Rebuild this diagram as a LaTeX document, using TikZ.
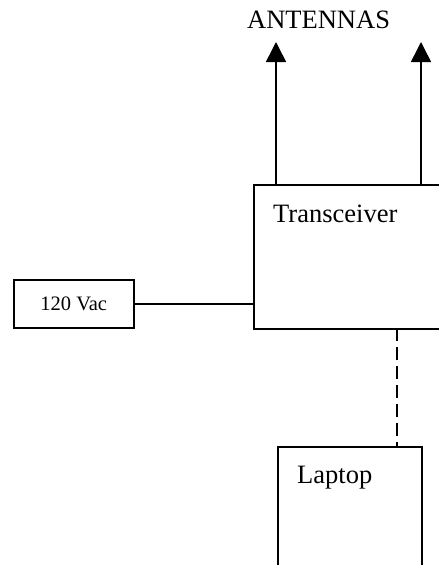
\documentclass[tikz,border=0pt]{standalone}
\usepackage{fontspec}
\setmainfont{Liberation Serif}
\usetikzlibrary{arrows.meta}
\begin{document}
\begin{tikzpicture}[x=1pt,y=-1pt,
  line/.style={line width=1.5pt},
  box/.style={draw,line width=1.5pt,inner sep=0pt,anchor=north west},
  lbl/.style={font=\fontsize{26.5}{30}\selectfont,inner sep=0pt,anchor=base west},
  small/.style={font=\fontsize{20.5}{24}\selectfont,inner sep=0pt},
  ant/.style={line width=1.5pt,-{Triangle[width=20pt,length=20pt]}}]
\useasboundingbox (0,0) rectangle (439,565);
\clip (0,0) rectangle (439,565);
% boxes
\node[box,minimum width=220pt,minimum height=144pt] (trx) at (253,184) {};
\node[box,minimum width=120pt,minimum height=48pt] (vac) at (13,279) {};
\node[small] at (vac.center) {120 Vac};
\node[box,minimum width=144pt,minimum height=160pt] (lap) at (277,446) {};
% texts
\node[lbl] (antl) at (247,28) {ANTENNAS};
\node[lbl] (trxl) at (273,222) {Transceiver};
\node[lbl] (lapl) at (297,483) {Laptop};
% antennas
\coordinate (a1) at (276,42);
\coordinate (a2) at (421,42);
\draw[ant] (trx.north west -| a1) -- (a1);
\draw[ant] (trx.north west -| a2) -- (a2);
% power line
\draw[line] (vac.east) -- (vac.east -| trx.west);
% dashed link
\coordinate (d1) at (397,328);
\draw[line width=1.5pt,dash pattern=on 13pt off 6pt] (d1) -- (d1 |- lap.north);
\end{tikzpicture}
\end{document}
